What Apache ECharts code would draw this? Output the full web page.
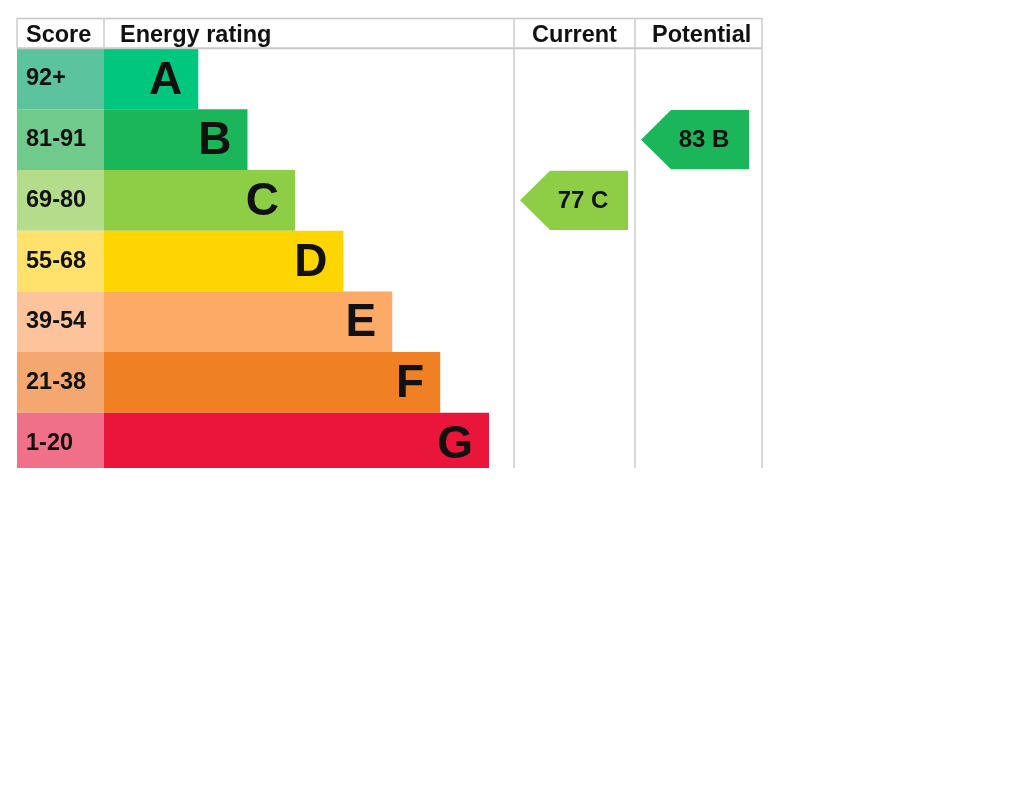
<!DOCTYPE html>
<html>
<head>
<meta charset="utf-8">
<script src="https://cdn.jsdelivr.net/npm/echarts@6/dist/echarts.min.js"></script>
<style>
html,body{margin:0;padding:0;background:#fff;}
#chart{width:1024px;height:791px;}
</style>
</head>
<body>
<div id="chart"></div>
<script>
// ---- data ----
const ratings = ['A', 'B', 'C', 'D', 'E', 'F', 'G'];
const scoreBands = ['92+', '81-91', '69-80', '55-68', '39-54', '21-38', '1-20'];
// bar length as % of the energy-rating column width
const barLengths = [23.0, 35.0, 46.6, 58.4, 70.3, 82.0, 93.9];
const barColors = ['#00c67e', '#1bb55a', '#8dce46', '#ffd500', '#fcaa65', '#ef8023', '#e9153b'];
const scoreColors = ['#5cc39f', '#70ca8c', '#b3dd8a', '#ffe26b', '#fdc49b', '#f4a86f', '#ef7088'];
const headers = ['Score', 'Energy rating', 'Current', 'Potential'];
const currentScore = 77, currentRating = 'C';
const potentialScore = 83, potentialRating = 'B';

// ---- layout ----
const FONT = '"Liberation Sans", Arial, sans-serif';
const gridTop = 48.6, rowH = 60.7, gridH = rowH * 7;
const colScore = [17, 104], colEnergy = [104, 514], colCur = [514, 635], colPot = [635, 762];

const chart = echarts.init(document.getElementById('chart'), null, {renderer: 'canvas'});

function mkGrid(c) { return {left: c[0], top: gridTop, width: c[1] - c[0], height: gridH, containLabel: false}; }
function mkX(i, max) { return {type: 'value', gridIndex: i, min: 0, max: max, show: false}; }
function mkY(i) { return {type: 'category', gridIndex: i, data: ratings, inverse: true, show: false}; }

function arrowItem(params, api) {
  const idx = api.value(1);
  const p = api.coord([0, idx]);
  const sz = api.size([1, 1]);
  const x0 = p[0] + 6, x1 = x0 + 108;
  const h = sz[1] - 1.5, cy = p[1];
  const head = 30;
  const color = barColors[idx];
  return {
    type: 'group',
    children: [
      {type: 'polygon', shape: {points: [[x0, cy], [x0 + head, cy - h / 2], [x1, cy - h / 2], [x1, cy + h / 2], [x0 + head, cy + h / 2]]},
       style: {fill: color}},
      {type: 'text', style: {text: api.value(2) + ' ' + ratings[idx], x: (x0 + x1) / 2 + 9, y: cy + 1,
        align: 'center', verticalAlign: 'middle', fill: '#111', font: 'bold 24px ' + FONT}}
    ]
  };
}

const lineStyle = {stroke: '#cccccc', lineWidth: 1.5};
function vline(x, y1, y2) { return {type: 'line', shape: {x1: x, y1: y1, x2: x, y2: y2}, style: lineStyle, z: 10}; }
function hline(y, x1, x2, w) { return {type: 'line', shape: {x1: x1, y1: y, x2: x2, y2: y}, style: {stroke: '#c8c8c8', lineWidth: w}, z: 10}; }
function htext(t, x, align) { return {type: 'text', x: x, y: 35.5, style: {text: t, align: align, verticalAlign: 'middle', fill: '#111', font: 'bold 23.5px ' + FONT}, z: 10}; }

const option = {
  backgroundColor: '#ffffff',
  animation: false,
  grid: [mkGrid(colScore), mkGrid(colEnergy), mkGrid(colCur), mkGrid(colPot)],
  xAxis: [mkX(0, 1), mkX(1, 100), mkX(2, 1), mkX(3, 1)],
  yAxis: [mkY(0), mkY(1), mkY(2), mkY(3)],
  series: [
    {
      type: 'bar', xAxisIndex: 0, yAxisIndex: 0, barWidth: '100%', barCategoryGap: '0%',
      data: scoreBands.map((s, i) => ({value: 1, itemStyle: {color: scoreColors[i]}})),
      label: {show: true, position: 'insideLeft', distance: 9, formatter: p => scoreBands[p.dataIndex],
        color: '#111', fontFamily: FONT, fontWeight: 'bold', fontSize: 23.5}
    },
    {
      type: 'bar', xAxisIndex: 1, yAxisIndex: 1, barWidth: '100%', barCategoryGap: '0%',
      data: barLengths.map((v, i) => ({value: v, itemStyle: {color: barColors[i]}})),
      label: {show: true, position: 'insideRight', distance: 16, formatter: p => ratings[p.dataIndex],
        color: '#111', fontFamily: FONT, fontWeight: 'bold', fontSize: 46, offset: [0, 2]}
    },
    {
      type: 'custom', xAxisIndex: 2, yAxisIndex: 2, renderItem: arrowItem,
      data: [[0, ratings.indexOf(currentRating), currentScore]]
    },
    {
      type: 'custom', xAxisIndex: 3, yAxisIndex: 3, renderItem: arrowItem,
      data: [[0, ratings.indexOf(potentialRating), potentialScore]]
    }
  ],
  graphic: [
    {type: 'rect', shape: {x: 10, y: 468, width: 520, height: 20}, style: {fill: '#fff'}, z: 9},
    hline(18.5, 17, 762, 1.5),
    hline(48.3, 17, 762, 2),
    vline(17, 18, 48),
    vline(104, 18, 48),
    vline(514, 18, 468),
    vline(635, 18, 468),
    vline(762, 18, 468),
    htext(headers[0], 26, 'left'),
    htext(headers[1], 120, 'left'),
    htext(headers[2], 574.5, 'center'),
    htext(headers[3], 652, 'left')
  ]
};
chart.setOption(option);
</script>
</body>
</html>
